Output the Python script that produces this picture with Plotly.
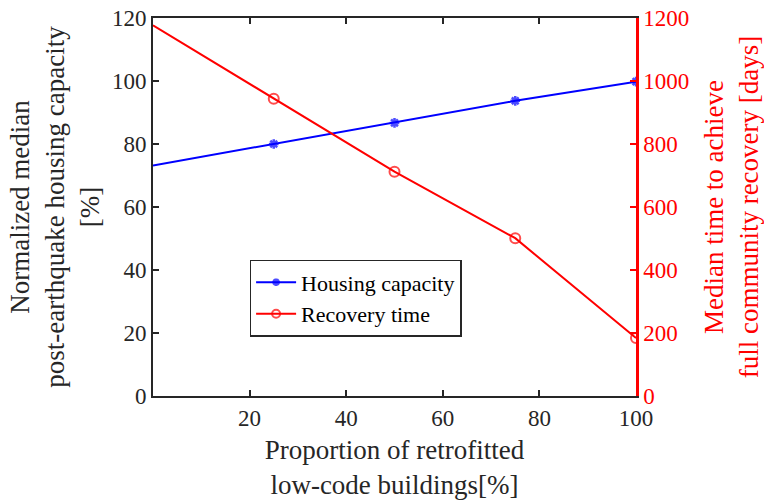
import plotly.graph_objects as go

x_vals = [0, 25, 50, 75, 100]
housing = [73.2, 80.0, 86.7, 93.7, 99.8]
recovery = [1177, 944, 712, 501, 184]
x_ticks = [20, 40, 60, 80, 100]
y1_ticks = [0, 20, 40, 60, 80, 100, 120]
y2_ticks = [0, 200, 400, 600, 800, 1000, 1200]

FONT = "Liberation Serif, Times New Roman, Times, Noto Serif, DejaVu Serif, serif"
DARK = "#262626"
TICK = 23
TITLE = 27

fig = go.Figure()
fig.add_trace(go.Scatter(
    x=x_vals, y=housing, name="Housing capacity", mode="lines+markers",
    line=dict(color="#0000ff", width=2),
    marker=dict(symbol="asterisk-open", size=[0, 8, 8, 8, 8],
                line=dict(color="#0000ff", width=2.5), color="#0000ff"),
    yaxis="y"))
fig.add_trace(go.Scatter(
    x=x_vals, y=recovery, name="Recovery time", mode="lines+markers",
    line=dict(color="#ff0000", width=2),
    marker=dict(symbol="circle-open", size=[0, 10, 10, 10, 10],
                line=dict(color="#ff0000", width=2), color="#ff0000"),
    yaxis="y2"))

fig.update_layout(
    width=764, height=500,
    margin=dict(l=153, r=128, t=18, b=104, autoexpand=False),
    paper_bgcolor="white", plot_bgcolor="white",
    font=dict(family=FONT, size=TICK, color=DARK),
    showlegend=True,
    legend=dict(x=0.2, y=0.36, xanchor="left", yanchor="top",
                bordercolor=DARK, borderwidth=1.5, bgcolor="white",
                font=dict(family=FONT, size=22, color="black"),
                tracegroupgap=0, itemwidth=40),
    xaxis=dict(range=[0, 100], tickvals=x_ticks, ticks="inside", ticklen=6,
               tickwidth=2, tickcolor=DARK, showline=True, linecolor=DARK,
               linewidth=2, mirror="ticks", showgrid=False, zeroline=False,
               automargin=False,
               tickfont=dict(family=FONT, size=TICK, color=DARK),
               title=dict(text="Proportion of retrofitted<br>low-code buildings[%]",
                          font=dict(family=FONT, size=TITLE, color=DARK), standoff=18)),
    yaxis=dict(range=[0, 120], tickvals=y1_ticks, ticks="inside", ticklen=6,
               tickwidth=2, tickcolor=DARK, showline=True, linecolor=DARK,
               linewidth=2, showgrid=False, zeroline=False, automargin=False,
               tickfont=dict(family=FONT, size=TICK, color=DARK),
               title=dict(text="Normalized median<br>post-earthquake housing capacity<br>[%]",
                          font=dict(family=FONT, size=TITLE, color=DARK), standoff=4)),
    yaxis2=dict(range=[0, 1200], tickvals=y2_ticks, ticks="inside", ticklen=6,
                tickwidth=2, tickcolor="#ff0000", showline=True, linecolor="#ff0000",
                linewidth=2.5, showgrid=False, zeroline=False, overlaying="y",
                side="right", anchor="x", automargin=False,
                tickfont=dict(family=FONT, size=TICK, color="#ff0000"),
                title=dict(text="Median time to achieve<br>full community recovery [days]",
                           font=dict(family=FONT, size=TITLE, color="#ff0000"), standoff=20)),
)

fig.write_html("out.html", config={"displayModeBar": False},
               post_script="document.body.style.margin='0';")
